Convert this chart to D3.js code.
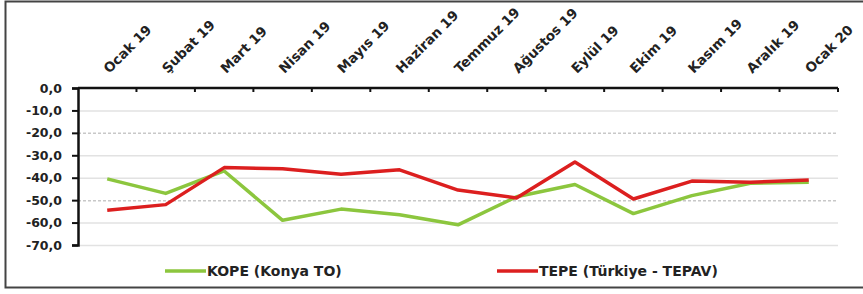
<!DOCTYPE html>
<html>
<head>
<meta charset="utf-8">
<script src="https://cdn.jsdelivr.net/npm/d3@7"></script>
<style>
body{margin:0;background:#fff;}
text{font-family:"DejaVu Sans",Verdana,sans-serif;font-weight:bold;fill:#222;}
</style>
</head>
<body>
<svg id="chart" width="863" height="294"></svg>
<script>
// months shown on the top axis
var months = ["Ocak 19","Şubat 19","Mart 19","Nisan 19","Mayıs 19","Haziran 19","Temmuz 19",
              "Ağustos 19","Eylül 19","Ekim 19","Kasım 19","Aralık 19","Ocak 20"];
var kope = [-40.5,-47,-37,-59,-54,-56.5,-61,-48.5,-43,-56,-48,-42.5,-42];
var tepe = [-54.5,-52,-35.5,-36,-38.5,-36.5,-45.5,-49,-33,-49.5,-41.5,-42,-41];
var yTicks = [0,-10,-20,-30,-40,-50,-60,-70];
var seriesNames = ["KOPE (Konya TO)","TEPE (Türkiye - TEPAV)"];
var seriesColors = ["#8cc63e","#dc1f1f"];

var svg = d3.select("#chart");

// frame
svg.append("rect").attr("x",5.5).attr("y",1.5).attr("width",870).attr("height",286)
   .style("fill","none").style("stroke","#444").style("stroke-width",2);

var pLeft = 78, pRight = 838, pTop = 88, pBottom = 245;

var x = d3.scaleBand().domain(months).range([pLeft,pRight]);
var y = d3.scaleLinear().domain([-70,0]).range([pBottom,pTop]);

// grid
svg.append("g").selectAll("line").data(yTicks.filter(function(d){return d<0;})).enter()
   .append("line")
   .attr("x1",pLeft).attr("x2",pRight)
   .attr("y1",function(d){return y(d)+0.5;}).attr("y2",function(d){return y(d)+0.5;})
   .style("stroke",function(d){return (d==-20||d==-50)?"#c8c8c8":"#e2e2e2";})
   .style("stroke-dasharray",function(d){return (d==-20||d==-50)?"3,2":null;})
   .style("stroke-width",1.5);

// y axis
var yAxis = svg.append("g").attr("transform","translate("+pLeft+",0)")
   .call(d3.axisLeft(y).tickValues(yTicks).tickSize(6).tickPadding(10)
         .tickFormat(function(d){return d3.format(".1f")(d).replace(".",",").replace("−","-");}));
yAxis.select(".domain").style("stroke","#111").style("stroke-width",2.5);
yAxis.selectAll(".tick line").style("stroke","#111").style("stroke-width",2);
yAxis.selectAll("text").style("font-size","12.5px").style("font-family","DejaVu Sans").style("font-weight","bold").attr("fill","#222");

// x axis at zero line
var xAxis = svg.append("g").attr("transform","translate(0,"+y(0)+")");
xAxis.append("line").attr("x1",pLeft).attr("x2",pRight).attr("y1",0).attr("y2",0)
     .style("stroke","#111").style("stroke-width",2.5);
xAxis.selectAll(".tk").data(months).enter().append("line")
     .attr("x1",function(d){return x(d)+x.step();})
     .attr("x2",function(d){return x(d)+x.step();})
     .attr("y1",0).attr("y2",4)
     .style("stroke","#111").style("stroke-width",2);
xAxis.selectAll(".lbl").data(months).enter().append("text")
     .attr("transform",function(d){return "translate("+(x(d)+x.bandwidth()/2+2)+",-14) rotate(-45)";})
     .attr("text-anchor","start")
     .style("font-size","13.5px")
     .text(function(d){return d;});

// lines
var line = d3.line()
   .x(function(d,i){return x(months[i])+x.bandwidth()/2;})
   .y(function(d){return y(d);});

[kope,tepe].forEach(function(s,i){
   svg.append("path").datum(s).attr("d",line)
      .style("fill","none").style("stroke",seriesColors[i]).style("stroke-width",3.5)
      .style("stroke-linejoin","round");
});

// legend
var legX = [165,497];
seriesNames.forEach(function(n,i){
   svg.append("line").attr("x1",legX[i]).attr("x2",legX[i]+41).attr("y1",271).attr("y2",271)
      .style("stroke",seriesColors[i]).style("stroke-width",3.5);
   svg.append("text").attr("x",legX[i]+42).attr("y",276).style("font-size","14px").text(n);
});
</script>
</body>
</html>
